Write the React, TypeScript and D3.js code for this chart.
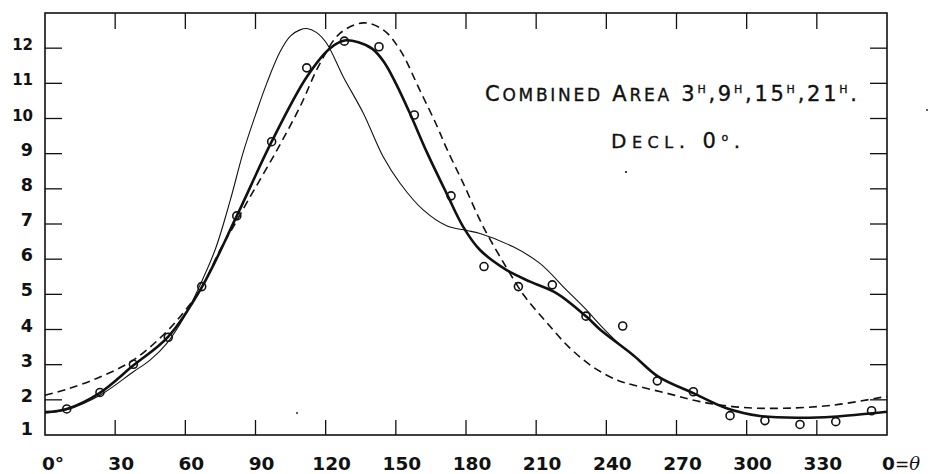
import React from "react";
import * as d3 from "d3";

const W = 930;
const H = 474;

// observed points (circles)
const obsTheta = [9.3, 23.5, 37.8, 52.7, 67.0, 82.0, 96.9, 111.9, 128.0, 142.8, 157.9, 173.6, 187.7, 202.4, 216.9, 231.3, 247.0, 261.8, 277.2, 292.9, 307.8, 322.8, 338.1, 353.4];
const obsValue = [1.74, 2.21, 3.01, 3.78, 5.22, 7.23, 9.34, 11.44, 12.2, 12.04, 10.1, 7.8, 5.79, 5.22, 5.27, 4.38, 4.1, 2.54, 2.23, 1.55, 1.41, 1.3, 1.38, 1.69];

// thick solid curve
const thickTheta = [0, 9.3, 23.5, 37.8, 52.7, 67, 82, 96.9, 111.9, 121.9, 128, 134, 140, 145, 150, 156, 163.2, 171.7, 178.8, 186, 197.4, 207.4, 218.8, 231.6, 237.3, 251.5, 262.2, 277.2, 291.4, 305.7, 322.8, 337, 360];
const thickValue = [1.65, 1.74, 2.2, 2.98, 3.8, 5.2, 7.23, 9.34, 11.18, 12.0, 12.22, 12.17, 11.98, 11.6, 11.0, 10.15, 9.05, 7.87, 6.92, 6.26, 5.69, 5.36, 5.03, 4.36, 4.0, 3.27, 2.66, 2.19, 1.76, 1.54, 1.49, 1.52, 1.66];

// thin solid curve
const thinTheta = [0, 9.3, 23.5, 37.8, 44.9, 52, 59.9, 64.8, 72.7, 79.1, 84.8, 90.5, 94.8, 100.5, 105, 109, 112, 116, 120.4, 127.5, 136.1, 144.6, 151.8, 161.7, 171.7, 180, 186, 200.2, 211.6, 223, 231.6, 237.3, 245, 251.5, 262.2, 277.2, 291.4, 305.7, 322.8, 337, 360];
const thinValue = [1.63, 1.72, 2.13, 2.8, 3.13, 3.6, 4.4, 5.05, 6.26, 7.65, 9.05, 10.2, 11.0, 11.9, 12.35, 12.52, 12.56, 12.45, 12.14, 11.19, 10.15, 8.91, 8.16, 7.4, 6.95, 6.82, 6.73, 6.35, 5.88, 5.12, 4.55, 4.13, 3.62, 3.27, 2.66, 2.19, 1.76, 1.54, 1.49, 1.52, 1.66];

// dashed curve
const dashTheta = [0, 9.3, 23.5, 37.8, 52, 60, 67, 74.8, 80.5, 86.9, 99, 109, 117.6, 126.1, 136.1, 144.6, 151.8, 160.3, 167.5, 171.7, 178.8, 187.4, 197.4, 205, 214.5, 224, 234.4, 245, 251.5, 265.8, 280, 297.1, 315.7, 337, 360];
const dashValue = [2.13, 2.3, 2.65, 3.13, 3.94, 4.55, 5.2, 6.26, 6.92, 7.68, 9.08, 10.33, 11.57, 12.42, 12.72, 12.52, 11.95, 10.8, 9.8, 9.15, 8.16, 6.92, 5.75, 4.95, 4.2, 3.5, 2.93, 2.55, 2.42, 2.19, 1.95, 1.79, 1.76, 1.85, 2.1];

const xTicks = [30, 60, 90, 120, 150, 180, 210, 240, 270, 300, 330];
const xLabelValues = [30, 60, 90, 120, 150, 180, 210, 240, 270, 300, 330];
const yTicks = [2, 3, 4, 5, 6, 7, 8, 9, 10, 11, 12];
const yLabels = [1, 2, 3, 4, 5, 6, 7, 8, 9, 10, 11, 12];

const x = d3.scaleLinear().domain([0, 360]).range([45, 887]);
const y = d3.scaleLinear().domain([1, 13]).range([435, 13]);

const line = d3
  .line<[number, number]>()
  .x((d) => x(d[0]))
  .y((d) => y(d[1]))
  .curve(d3.curveCatmullRom.alpha(0.5));

const zip = (a: number[], b: number[]) => a.map((t, i) => [t, b[i]] as [number, number]);

const INK = "#111";
const LABEL_FONT = "'DejaVu Sans', sans-serif";

export default function App() {
  const [x0, x1] = x.range();
  const [yb, yt] = y.range();
  return (
    <svg
      width={W}
      height={H}
      viewBox={`0 0 ${W} ${H}`}
      style={{ position: "absolute", left: 0, top: 0, background: "#fff" }}
    >
      <rect x={0} y={0} width={W} height={H} fill="#fff" />
      {/* frame */}
      <rect x={x0} y={yt} width={x1 - x0} height={yb - yt} fill="none" stroke={INK} strokeWidth={1.6} />
      {/* top & bottom ticks */}
      {xTicks.map((t) => (
        <g key={"xt" + t} stroke={INK} strokeWidth={1.3}>
          <line x1={x(t)} x2={x(t)} y1={yt} y2={yt + 16} />
          <line x1={x(t)} x2={x(t)} y1={yb} y2={yb - 15} />
        </g>
      ))}
      {/* left & right ticks */}
      {yTicks.map((v) => (
        <g key={"yt" + v} stroke={INK} strokeWidth={1.3}>
          <line x1={x0} x2={x0 + 17} y1={y(v)} y2={y(v)} />
          <line x1={x1} x2={x1 - 17} y1={y(v)} y2={y(v)} />
        </g>
      ))}
      {/* y labels */}
      {yLabels.map((v) => (
        <text
          key={"yl" + v}
          x={33}
          y={v === 1 ? y(v) : y(v) + 2}
          textAnchor="end"
          fontFamily={LABEL_FONT}
          fontWeight="bold"
          fontSize={v >= 10 ? 15 : 17.5}
          fill={INK}
        >
          {v}
        </text>
      ))}
      {/* x labels */}
      <text x={x(0) - 3} y={469.5} fontFamily={LABEL_FONT} fontWeight="bold" fontSize={18.5} fill={INK}>
        0°
      </text>
      {xLabelValues.map((t) => (
        <text
          key={"xl" + t}
          x={x(t) + 6}
          y={469.5}
          textAnchor="middle"
          fontFamily={LABEL_FONT}
          fontWeight="bold"
          fontSize={18.5}
          fill={INK}
        >
          {t}
        </text>
      ))}
      <text x={x(360) - 5} y={469.5} fontFamily={LABEL_FONT} fontWeight="bold" fontSize={18.5} fill={INK}>
        0
        <tspan fontWeight="normal" fontSize={17}>=</tspan>
        <tspan fontFamily="'DejaVu Serif', serif" fontStyle="italic" fontWeight="normal" fontSize={18}>θ</tspan>
      </text>

      {/* curves */}
      <path d={line(zip(thinTheta, thinValue)) || ""} fill="none" stroke={INK} strokeWidth={1.1} />
      <path
        d={line(zip(dashTheta, dashValue)) || ""}
        fill="none"
        stroke={INK}
        strokeWidth={1.6}
        strokeDasharray="8,5"
      />
      <path d={line(zip(thickTheta, thickValue)) || ""} fill="none" stroke={INK} strokeWidth={2.6} />

      {/* observations */}
      {obsTheta.map((t, i) => (
        <circle key={"o" + i} cx={x(t)} cy={y(obsValue[i])} r={4} fill="none" stroke={INK} strokeWidth={1.6} />
      ))}

      {/* title */}
      <text
        x={485}
        y={100.5}
        fontFamily={LABEL_FONT}
        fill={INK}
        stroke={INK}
        strokeWidth={0.35}
        fontSize={21}
        textLength={372}
        lengthAdjust="spacing"
      >
        C<tspan fontSize={17}>OMBINED</tspan> A<tspan fontSize={17}>REA</tspan> 3
        <tspan fontSize={11} dy={-7.5}>H</tspan>
        <tspan dy={7.5}>,9</tspan>
        <tspan fontSize={11} dy={-7.5}>H</tspan>
        <tspan dy={7.5}>,15</tspan>
        <tspan fontSize={11} dy={-7.5}>H</tspan>
        <tspan dy={7.5}>,21</tspan>
        <tspan fontSize={11} dy={-7.5}>H</tspan>
        <tspan dy={7.5}>.</tspan>
      </text>
      <text
        x={611}
        y={147.5}
        fontFamily={LABEL_FONT}
        fill={INK}
        stroke={INK}
        strokeWidth={0.35}
        fontSize={20}
        textLength={129}
        lengthAdjust="spacing"
      >
        D<tspan fontSize={16}>ECL</tspan>. <tspan fontSize={21}>0</tspan>
        <tspan fontSize={11} dy={-7}>o</tspan>
        <tspan dy={7}>.</tspan>
      </text>

      {/* small specks */}
      <circle cx={626} cy={172} r={1.1} fill={INK} />
      <circle cx={927} cy={110} r={0.9} fill={INK} />
      <circle cx={297} cy={413} r={0.9} fill={INK} />
    </svg>
  );
}
